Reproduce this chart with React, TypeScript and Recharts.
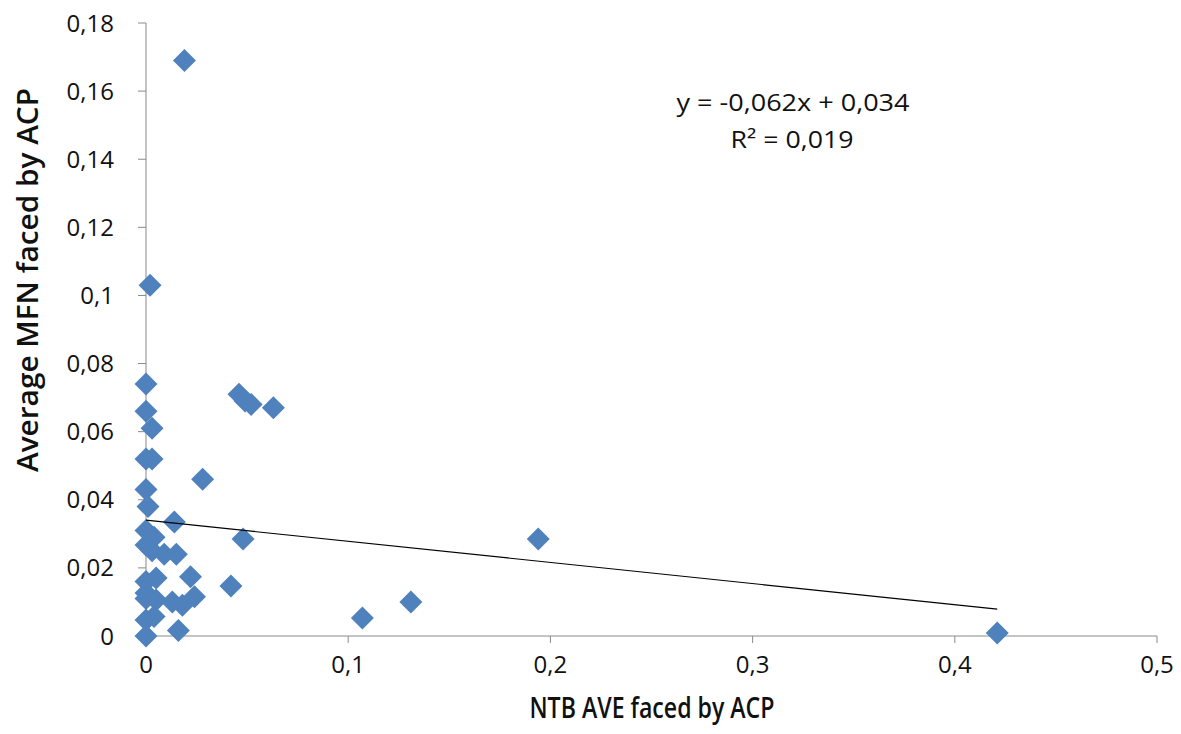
import React from 'react';
import { ScatterChart, Scatter, XAxis, YAxis } from 'recharts';

// NTB AVE faced by ACP (x) and Average MFN faced by ACP (y)
const ntbAve = [
  0.019, 0.002, 0, 0.046, 0.049, 0.052, 0.063, 0, 0.003, 0, 0.003, 0.028, 0, 0.001,
  0.014, 0.048, 0.194, 0, 0.004, 0, 0.003, 0.009, 0.015, 0, 0.005, 0.022, 0.042, 0,
  0, 0.005, 0.013, 0.018, 0.024, 0, 0.004, 0.016, 0, 0.107, 0.131, 0.421,
];
const mfnAvg = [
  0.169, 0.103, 0.074, 0.071, 0.069, 0.068, 0.067, 0.066, 0.061, 0.052, 0.052, 0.046, 0.043, 0.038,
  0.0335, 0.0285, 0.0285, 0.031, 0.029, 0.0267, 0.025, 0.024, 0.024, 0.016, 0.017, 0.0174, 0.0147, 0.0126,
  0.011, 0.0106, 0.01, 0.009, 0.0115, 0.0047, 0.0057, 0.0016, 0, 0.0053, 0.01, 0.0009,
];

const xTicks = [0, 0.1, 0.2, 0.3, 0.4, 0.5];
const yTicks = [0, 0.02, 0.04, 0.06, 0.08, 0.1, 0.12, 0.14, 0.16, 0.18];

// trendline: y = -0,062x + 0,034 over the data's x range
const trendSlope = -0.062;
const trendIntercept = 0.034;
const trendX = [0, 0.421];

const points = ntbAve.map((x, i) => ({ x, y: mfnAvg[i] }));
const trend = trendX.map((x) => ({ x, y: trendIntercept + trendSlope * x }));

const fmt = (v: number) => String(v).replace('.', ',');

const Diamond = (props: any) => {
  const { cx, cy } = props;
  const r = 11.5;
  return (
    <polygon
      points={`${cx},${cy - r} ${cx + r},${cy} ${cx},${cy + r} ${cx - r},${cy}`}
      fill="#4F81BD"
    />
  );
};

const tickFont = { fontSize: 24, fontFamily: '"Open Sans", sans-serif', fill: '#111' };
const axisColor = '#8a8a8a';

export default function App() {
  return (
    <div style={{ position: 'absolute', left: 0, top: 0, width: 1181, height: 734, background: '#fff' }}>
      <ScatterChart
        width={1181}
        height={734}
        margin={{ top: 23, right: 24, left: 0, bottom: 0 }}
      >
        <XAxis
          type="number"
          dataKey="x"
          domain={[0, 0.5]}
          ticks={xTicks}
          tickFormatter={fmt}
          height={98}
          stroke={axisColor}
          tickSize={7}
          tickMargin={13}
          tick={tickFont}
        />
        <YAxis
          type="number"
          dataKey="y"
          domain={[0, 0.18]}
          ticks={yTicks}
          tickFormatter={fmt}
          width={146}
          stroke={axisColor}
          tickSize={8}
          tickMargin={24}
          tick={tickFont}
        />
        <Scatter data={points} shape={<Diamond />} isAnimationActive={false} />
        <Scatter
          data={trend}
          line={{ stroke: '#000', strokeWidth: 1.2 }}
          shape={() => null}
          isAnimationActive={false}
        />
      </ScatterChart>
      <svg
        width={1181}
        height={734}
        style={{ position: 'absolute', left: 0, top: 0, pointerEvents: 'none' }}
      >
        <text
          x={652}
          y={706}
          textAnchor="middle"
          dominantBaseline="central"
          fontFamily='"Open Sans", sans-serif'
          fontWeight={600}
          fontSize={29}
          fill="#111"
          textLength={245}
          lengthAdjust="spacingAndGlyphs"
        >
          NTB AVE faced by ACP
        </text>
        <text
          x={27}
          y={280}
          textAnchor="middle"
          dominantBaseline="central"
          transform="rotate(-90 27 280)"
          fontFamily='"Open Sans", sans-serif'
          fontWeight={600}
          fontSize={28}
          fill="#111"
          textLength={384}
          lengthAdjust="spacingAndGlyphs"
        >
          Average MFN faced by ACP
        </text>
        <text
          x={793}
          y={101}
          textAnchor="middle"
          dominantBaseline="central"
          fontFamily='"Open Sans", sans-serif'
          fontSize={24}
          fill="#111"
          textLength={233}
          lengthAdjust="spacingAndGlyphs"
        >
          y = -0,062x + 0,034
        </text>
        <text
          x={792}
          y={138}
          textAnchor="middle"
          dominantBaseline="central"
          fontFamily='"Open Sans", sans-serif'
          fontSize={24}
          fill="#111"
          textLength={123}
          lengthAdjust="spacingAndGlyphs"
        >
          R² = 0,019
        </text>
      </svg>
    </div>
  );
}
